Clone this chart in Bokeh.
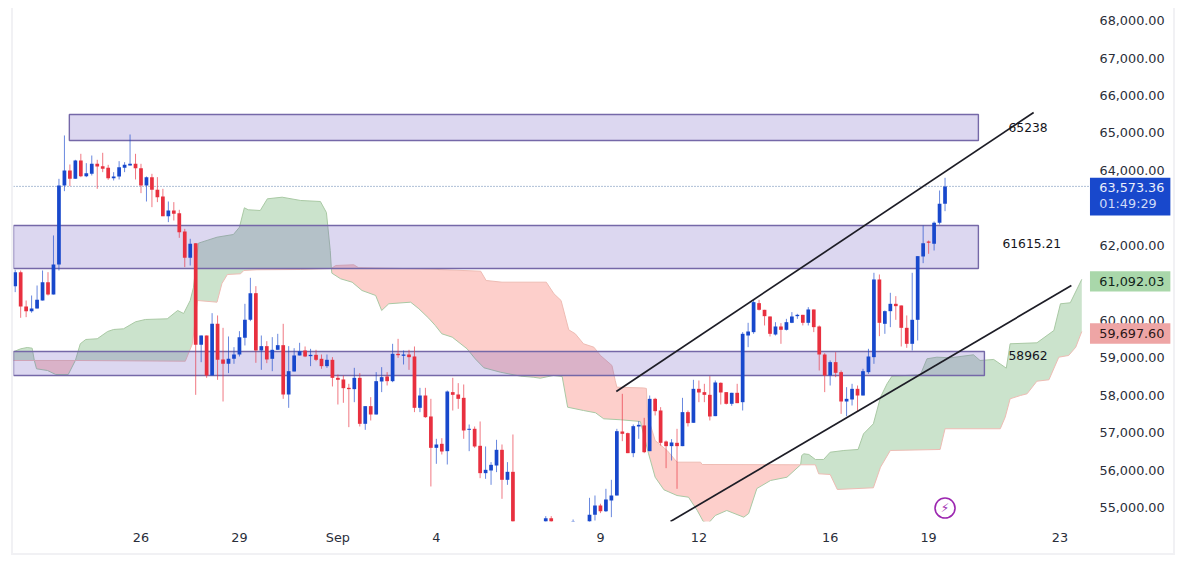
import numpy as np
from bokeh.plotting import figure
from bokeh.models import Range1d, NumeralTickFormatter, FixedTicker
from bokeh.core.properties import value
from bokeh.embed import file_html
from bokeh.resources import INLINE

N = None
opens = [60910,61283,60367,60242,60313,60527,61016,60687,61488,63598,
63998,63775,64265,63847,63909,64176,64114,64069,63793,63838,
64069,64131,64176,64060,63598,63820,63482,63304,62779,62930,
62859,62369,61666,62058,59343,59592,58525,59904,58952,58836,
58970,59085,59530,60011,60723,59192,59308,58970,59210,59334,
58017,58631,59059,59192,59041,59076,58970,58774,58943,58462,
58418,58195,58160,58462,57234,57706,57483,58364,58498,58373,
59103,59050,59085,59032,57661,57990,57430,56593,56700,56504,
58080,58017,57928,57074,57101,56647,55917,55988,56121,56540,
55739,55952,N,N,N,N,N,54500,54715,N,N,N,54400,N,N,
54500,54804,55053,54902,55187,
55320,57029,56985,56451,57163,57190,56504,57901,57590,56762,
56638,56727,56638,57546,57261,58168,58080,58008,57439,58329,
58080,57768,58062,57812,59592,59682,60456,60278,60100,59619,
59833,59744,59931,60109,60144,59931,60287,59833,59085,58524,
58881,58614,57830,57884,58168,57990,58614,59014,61088,59904,
60242,60438,60394,59797,59370,60011,61702,62102,62040,62601,
63108]
highs = [61346,61328,60527,60660,60927,61328,61283,62263,63775,64933,
64158,64283,64443,64194,64398,64283,64470,64149,63953,64247,
64220,64959,64443,64176,63838,63909,63820,63509,63170,63153,
62948,62440,62174,62058,59592,59592,60189,60127,59797,59566,
59281,59708,60438,61132,60910,59592,59441,59548,59637,59904,
59308,59254,59397,59299,59236,59210,59085,59085,59014,58551,
58524,58302,58729,58587,57706,57946,58614,58747,58614,59370,
59503,59192,59210,59299,58195,58195,57901,56834,56851,58124,
58462,58320,58284,57216,57163,57296,56629,56211,56807,56682,
56211,56949,N,N,N,N,N,54769,54769,N,N,N,54680,N,N,
55258,55320,55100,55499,55739,
57100,58035,57000,57216,57305,57394,57990,57928,57679,56789,
56825,57100,57928,57590,58409,58391,58302,58507,58391,58340,
58080,58062,58302,59682,59931,60545,60545,60278,60100,59948,
59922,60037,60216,60171,60144,60349,60287,59860,59121,58925,
59148,58658,58213,58302,58257,58703,59237,61266,61221,60260,
60732,60643,60394,60127,61266,61711,62530,62129,62636,63464,
63802]
lows = [60750,60064,60082,60200,60313,60527,60660,60687,61328,63446,
63580,63775,63820,63820,63865,63509,63953,63749,63731,63758,
63953,64131,63758,63393,63170,63019,63153,62779,62619,62663,
62200,61417,61461,58008,58880,58462,58525,58409,57830,58587,
58836,59032,59326,59975,58863,58676,58854,58640,59210,57901,
57661,58631,59059,59014,58774,58907,58703,58729,58231,57750,
57795,57145,57812,57163,57074,57323,57483,58080,58258,58346,
58996,58818,58676,57546,57546,57394,55561,56166,56415,56148,
57590,57634,56834,56504,56593,55783,55765,55605,55944,55232,
55605,54400,N,N,N,N,N,54300,54300,N,N,N,54300,N,N,
54400,54653,54850,54880,54742,
55320,56771,56451,56344,56833,56451,56504,57457,56655,56050,
56255,55499,56638,57163,57261,57812,57812,57323,57439,57750,
57750,57715,57786,57590,59281,59637,60260,59860,59566,59592,
59370,59726,59922,60037,59860,59860,59682,58658,58080,58257,
58480,57501,57439,57724,57572,57990,58569,58836,59575,59637,
59815,60011,59299,59263,59192,59459,61524,61773,61862,62556,
62912]
closes = [61283,60367,60242,60313,60545,61016,60687,61488,63598,63998,
63775,64265,63847,63927,64176,64105,64043,63793,63838,64087,
64149,64176,64060,63598,63820,63482,63286,62779,62930,62841,
62352,61666,62040,59343,59592,58525,59904,58943,58836,58970,
59085,59548,60011,60723,59192,59308,58952,59210,59334,58017,
58640,59059,59174,59032,59076,58943,58774,58943,58462,58409,
58186,58160,58462,57234,57706,57483,58373,58480,58373,59103,
59067,59085,59014,57661,57990,57412,56593,56682,56495,58097,
58008,57901,57056,57101,56629,55917,56006,56139,56540,55739,
55952,54500,N,N,N,N,N,54715,54500,N,N,N,54500,N,N,
54804,55053,54902,55214,55320,
57038,56967,56451,57172,57207,56477,57901,57572,56727,56638,
56736,56638,57546,57252,58168,58071,58008,57430,58338,58071,
57768,58062,57786,59637,59699,60483,60278,60109,59637,59833,
59744,59948,60100,60144,59931,60287,59815,59085,58524,58881,
58596,57830,57901,58168,57990,58640,59032,61088,59931,60242,
60438,60376,59797,59370,60011,61711,62058,62067,62601,63108,
63573.36]

# Ichimoku cloud: span A and span B, cut at their crossings
a1_x = [-0.5,1.0,2.2,3.1,3.5]
a1_v = [59147,59237,59272,59253,58925]
b1_x = [-0.5,3.5]
b1_v = [58925,58925]
a2_x = [3.5,3.9,5.9,7.4,9.7,11.0]
a2_v = [58925,58703,58658,58551,58551,58925]
b2_x = [3.5,11.0]
b2_v = [58925,58925]
a3_x = [11.0,11.9,12.9,15.0,16.9,18.0,19.8,22.0,23.8,27.8,29.7,30.8,32.0,32.6,33.5,36.9,39.9,41.0,41.9,42.6,44.8,46.1,48.8,52.2,55.8,56.9,57.6,57.8]
a3_v = [58925,59371,59486,59505,59699,59753,59771,59958,60020,60038,60260,60180,60527,60882,62057,62217,62289,62484,63002,62949,62930,63242,63285,63197,63170,62876,61862,61381]
b3_x = [11.0,31.1,32.4,33.3,36.9,37.8,38.8,41.2,41.8,44.2,52.2,57.8]
b3_v = [58925,58906,59371,60527,60482,60981,61221,61240,61328,61347,61355,61381]
a4_x = [57.8,57.9,59.5,61.6,63.4,65.9,67.0,68.3,72.3,73.8,75.6,76.8,78.0,79.9,82.6,84.1,85.7,88.7,92.4,94.7,96.0,98.4,100.0,101.0,103.9,106.1,107.6,110.7,114.3,115.8,117.0,118.6,121.0,123.1,124.7,125.8,126.7,128.0,130.1,133.2,134.1,135.6,138.1,141.1,143.6]
a4_v = [61381,61256,61106,61016,60794,60661,60260,60439,60482,60306,60054,59860,59638,59548,59238,58970,58730,58613,58506,58479,58452,58525,58498,57678,57590,57529,57368,57342,57296,56434,55809,55473,55320,55275,54920,54626,54573,54787,54920,54741,54840,55507,55721,55809,56140]
b4_x = [57.8,58.6,61.9,62.8,74.1,85.1,86.1,89.0,97.1,98.5,99.8,101.2,102.4,103.9,105.8,107.0,109.1,109.7,110.0,114.9,115.4,115.6,117.0,119.2,121.0,125.3,125.6,143.6]
b4_v = [61381,61461,61480,61400,61373,61309,61061,61016,61016,60706,60527,59744,59638,59371,59280,59059,58792,58391,58212,58191,58178,57457,56789,56522,56210,56210,56148,56140]
a5_x = [143.6,143.8,144.2,145.1,146.3,147.8,149.0,151.5,154.1,155.1,156.9,158.2,159.4,160.3,165.5,166.7,168.5,171.0,175.2,176.4,178.9,181.2,181.9,186.8,189.9,191.1,192.9,195.0]
a5_v = [56140,56389,56434,56415,56282,56282,56476,56522,56549,56968,57235,57945,58303,58506,58543,58970,59013,58997,59077,58925,58952,58720,59371,59397,59726,60439,60466,61092.03]
b5_x = [143.6,146.3,146.9,149.0,150.3,156.9,158.2,160.0,169.1,170.0,180.1,181.0,181.9,183.8,185.0,186.8,189.0,190.8,192.6,193.9,195.0]
b5_v = [56140,56140,55900,55881,55481,55526,56076,56522,56549,57102,57102,57411,57902,57991,58036,58372,58410,59013,59059,59280,59697.60]

zone_left = [9.9,-0.31,-0.31]
zone_right = [176.1,176.1,177.2]
zone_top = [65493,62530,59165]
zone_bottom = [64799,61381,58524]

channel_upper_x = [109.9,186.2]
channel_upper_v = [58097,65547]
channel_lower_x = [119.8,193.1]
channel_lower_v = [54626,60928]

note_x = [181.6,180.5,181.6]
note_v = [65146,62049,59058]
note_text = ["65238","61615.21","58962"]

time_ticks = [23,41,59,77,107,125,149,167,191]
time_labels = ["26","29","Sep","4","9","12","16","19","23"]
price_ticks = list(range(55000,69000,1000))

tag_top = [63803,61309,59921]
tag_bottom = [62797,60767,59371]
tag_fill = ["#1848cc","#a9d7aa","#eea5a5"]
tag_text = ["63,573.36","01:49:29","61,092.03","59,697.60"]
tag_text_v = [63536,63109,61038,59646]
tag_text_color = ["#e9eefb","#cfdaf7","#11241a","#2a1516"]

last_price = closes[-1]
FONT = "DejaVu Sans"
INK = "#2a2e39"
BLUE = "#1848cc"
RED = "#e8303f"
X_END = 211.77

p = figure(width=1164, height=547, output_backend="svg", toolbar_location=None,
           x_range=Range1d(-0.31, X_END), y_range=Range1d(54626, 68323),
           min_border_left=0, min_border_right=4, min_border_top=0, min_border_bottom=34,
           x_axis_location="below", y_axis_location="right")
p.styles = {"margin-left": "11px", "margin-top": "8px", "border-left": "2px solid #f1f1f4",
            "border-right": "2px solid #f1f1f4", "border-bottom": "2px solid #f1f1f4"}
p.grid.visible = False
p.outline_line_color = None
p.background_fill_color = "white"

for ax in (p.xaxis[0], p.yaxis[0]):
    ax.axis_line_color = None
    ax.major_tick_line_color = None
    ax.minor_tick_line_color = None
    ax.major_tick_out = 0
    ax.major_tick_in = 0
    ax.major_label_text_font = FONT
    ax.major_label_text_font_size = "12.8px"
    ax.major_label_text_color = INK
p.yaxis[0].ticker = FixedTicker(ticks=price_ticks)
p.yaxis[0].formatter = NumeralTickFormatter(format="0,0.00")
p.yaxis[0].major_label_standoff = -74
p.xaxis[0].ticker = FixedTicker(ticks=time_ticks)
p.xaxis[0].major_label_overrides = dict(zip(time_ticks, time_labels))
p.xaxis[0].major_label_standoff = 8

# cloud
GREEN_FILL = "#cbe3cc"
RED_FILL = "#fdcfcb"
sections = [(a1_x,a1_v,b1_x,b1_v,GREEN_FILL),(a2_x,a2_v,b2_x,b2_v,RED_FILL),
            (a3_x,a3_v,b3_x,b3_v,GREEN_FILL),(b4_x,b4_v,a4_x,a4_v,RED_FILL),
            (a5_x,a5_v,b5_x,b5_v,GREEN_FILL)]
for ux,uv,lx,lv,fill in sections:
    p.patch(ux + lx[::-1], uv + lv[::-1], fill_color=fill, line_color=None)
for xs,vs in [(a1_x,a1_v),(a2_x,a2_v),(a3_x,a3_v),(a4_x,a4_v),(a5_x,a5_v)]:
    p.line(xs, vs, line_color="#a9c9a4", line_width=1)
for xs,vs in [(b1_x,b1_v),(b2_x,b2_v),(b3_x,b3_v),(b4_x,b4_v),(b5_x,b5_v)]:
    p.line(xs, vs, line_color="#eebcb4", line_width=1)

# zones
p.quad(left=zone_left, right=zone_right, top=zone_top, bottom=zone_bottom,
       fill_color="#6750be", fill_alpha=0.23, line_color="#7568a8", line_width=1.4)

# last price
p.line([-0.31, 196.6], [last_price, last_price], line_color="#5f7fae", line_width=1, line_dash="1 2")

# candles
o = np.array(opens, dtype=float); h = np.array(highs, dtype=float)
l = np.array(lows, dtype=float); c = np.array(closes, dtype=float)
idx = np.arange(len(o))
valid = ~np.isnan(o)
up = valid & (c >= o)
dn = valid & (c < o)
for mask, col in ((up, BLUE), (dn, RED)):
    p.segment(idx[mask], h[mask], idx[mask], l[mask], line_color=col, line_width=1, line_alpha=0.65)
    p.vbar(idx[mask], 0.68, np.maximum(o, c)[mask], np.minimum(o, c)[mask], fill_color=col, line_color=None)

# channel
p.line(channel_upper_x, channel_upper_v, line_color="#1d1d26", line_width=1.7)
p.line(channel_lower_x, channel_lower_v, line_color="#1d1d26", line_width=1.7)

p.text(note_x, note_v, text=note_text, text_font=value(FONT), text_font_size="12.3px",
       text_color="#15151c", text_baseline="middle", text_align="left")

# event marker
p.scatter([170], [54985], marker="circle", size=20, fill_color="white", line_color="#9c27b0", line_width=1.6)
p.text([170], [54985], text=["⚡"], text_font=value(FONT), text_font_size="12px",
       text_color="#9c27b0", text_align="center", text_baseline="middle")

# price tags, above the axis labels
p.quad(left=[196.5]*3, right=[211.2]*3, top=tag_top, bottom=tag_bottom,
       fill_color=tag_fill, line_color=None, level="overlay")
p.text([198.2]*4, tag_text_v, text=tag_text, text_color=tag_text_color, text_font=value(FONT),
       text_font_size="12.8px", text_align="left", text_baseline="middle", level="overlay")

open("out.html", "w").write(file_html(p, INLINE))
